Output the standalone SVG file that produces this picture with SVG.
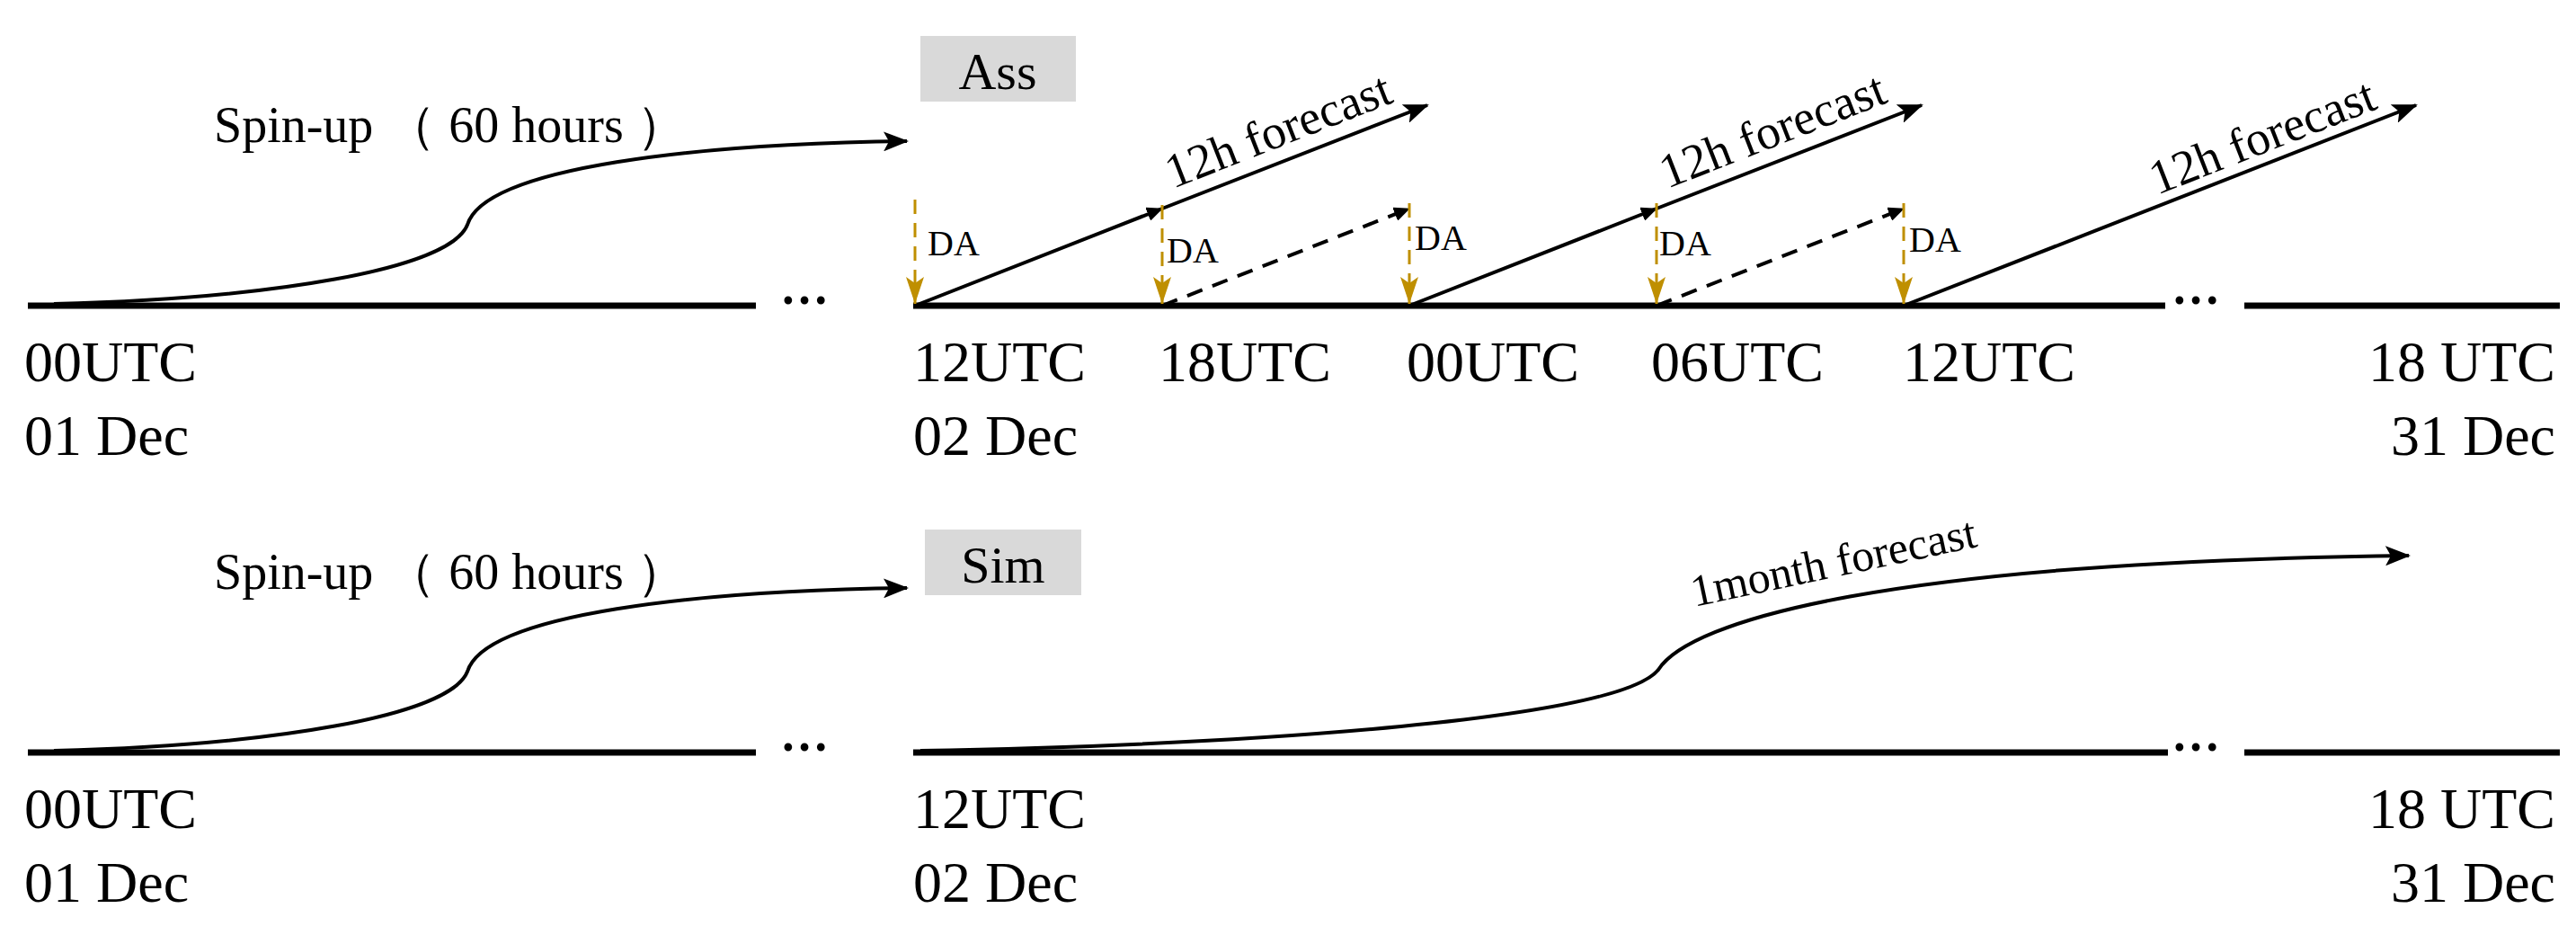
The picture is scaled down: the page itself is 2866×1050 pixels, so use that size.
<svg xmlns="http://www.w3.org/2000/svg" width="2866" height="1050" viewBox="0 0 2866 1050">
<style>
text{font-family:"Liberation Serif","Times New Roman",serif;fill:#000}
.lab{font-size:64px}
.spin{font-size:56px}
.da{font-size:40px}
.fc{font-size:54px}
.axis{stroke:#000;stroke-width:7;fill:none}
.curve{stroke:#000;stroke-width:4;fill:none;marker-end:url(#ah)}
.fs{stroke:#000;stroke-width:4;fill:none;marker-end:url(#ah);marker-mid:url(#sm)}
.fd{stroke:#000;stroke-width:4;fill:none;stroke-dasharray:18 12;marker-end:url(#sm)}
.dav{stroke:#bf8f00;stroke-width:3;fill:none;stroke-dasharray:16 10;marker-end:url(#ga)}
.dots{font-size:54px;font-weight:bold}
</style>
<defs>
<marker id="ah" markerWidth="28" markerHeight="22" refX="26" refY="11" orient="auto" markerUnits="userSpaceOnUse" viewBox="0 0 28 22"><path d="M0,0 L28,11 L0,22 L6,11 Z" fill="#000"/></marker>
<marker id="sm" markerWidth="18" markerHeight="16" refX="17" refY="8" orient="auto" markerUnits="userSpaceOnUse" viewBox="0 0 18 16"><path d="M0,0 L18,8 L0,16 Z" fill="#000"/></marker>
<marker id="ga" markerWidth="20" markerHeight="30" refX="10" refY="30" orient="0" markerUnits="userSpaceOnUse" viewBox="0 0 20 30"><path d="M0,0 L10,30 L20,0 L10,7 Z" fill="#bf8f00"/></marker>
</defs>
<g id="top">
<g id="ass-box"><rect x="1024" y="40" width="173" height="73" fill="#d9d9d9"/><text x="1110" y="99" text-anchor="middle" style="font-size:58px">Ass</text></g>
<g id="top-labels" class="lab">
<text x="27" y="424">00UTC</text><text x="27" y="506">01 Dec</text>
<text x="1016" y="424">12UTC</text><text x="1016" y="506">02 Dec</text>
<text x="1289" y="424">18UTC</text>
<text x="1565" y="424">00UTC</text>
<text x="1837" y="424">06UTC</text>
<text x="2117" y="424">12UTC</text>
<text x="2843" y="424" text-anchor="end">18 UTC</text><text x="2843" y="506" text-anchor="end">31 Dec</text>
</g>
<text class="spin" x="238" y="158">Spin-up （ 60 hours ）</text>
<g id="top-da" class="da">
<text x="1032" y="284">DA</text><text x="1298" y="292">DA</text><text x="1574" y="278">DA</text><text x="1846" y="284">DA</text><text x="2124" y="280">DA</text>
</g>
<g class="fc">
<text transform="translate(1305,210) rotate(-21.4)">12h forecast</text>
<text transform="translate(1855,210) rotate(-21.4)">12h forecast</text>
<text transform="translate(2400,217) rotate(-21.4)">12h forecast</text>
</g>
<text class="dots" x="868" y="338">…</text>
<text class="dots" x="2416" y="338">…</text>
</g>
<g id="connectors">
<path class="axis" d="M31,340 H841 M1016,340 H2409 M2497,340 H2848"/>
<path class="curve" d="M60,338 C300,332 500,300 520,250 C540,185 780,160 1009,157"/>
<polyline class="fs" points="1018,340 1293,232 1588,117"/>
<polyline class="fs" points="1568,340 1843,232 2138,117"/>
<path class="fs" d="M2118,340 L2688,117"/>
<path class="fd" d="M1293,340 L1568,232"/>
<path class="fd" d="M1843,340 L2118,232"/>
<path class="dav" d="M1018,222 V338"/>
<path class="dav" d="M1293,228 V338"/>
<path class="dav" d="M1568,226 V338"/>
<path class="dav" d="M1843,226 V338"/>
<path class="dav" d="M2118,226 V338"/>
<path class="axis" d="M31,837 H841 M1016,837 H2412 M2497,837 H2848"/>
<path class="curve" d="M60,835 C300,829 500,797 520,747 C540,682 780,657 1009,654"/>
<path class="curve" d="M1024,835 C1400,828 1800,800 1845,745 C1880,690 2100,625 2680,618"/>
</g>
<g id="bottom">
<g id="sim-box"><rect x="1029" y="589" width="174" height="73" fill="#d9d9d9"/><text x="1116" y="648" text-anchor="middle" style="font-size:58px">Sim</text></g>
<text class="spin" x="238" y="655">Spin-up （ 60 hours ）</text>
<text transform="translate(1885,675) rotate(-12)" style="font-size:50px">1month forecast</text>
<g class="lab">
<text x="27" y="921">00UTC</text><text x="27" y="1003">01 Dec</text>
<text x="1016" y="921">12UTC</text><text x="1016" y="1003">02 Dec</text>
<text x="2843" y="921" text-anchor="end">18 UTC</text><text x="2843" y="1003" text-anchor="end">31 Dec</text>
</g>
<text class="dots" x="868" y="835">…</text>
<text class="dots" x="2416" y="835">…</text>
</g>
</svg>
